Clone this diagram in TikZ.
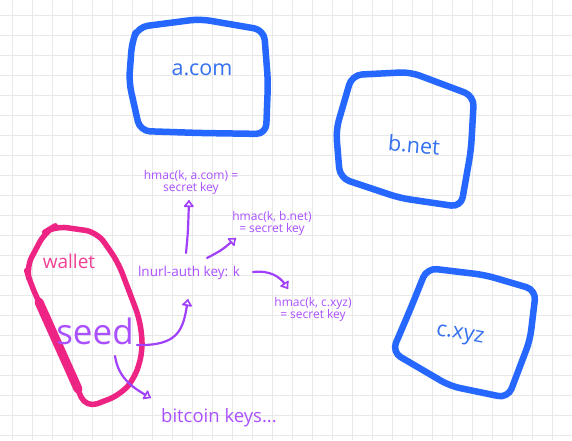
\documentclass[tikz,border=0pt]{standalone}
\usepackage{fontspec}
\setmainfont{Open Sans}
\usetikzlibrary{arrows.meta}
\definecolor{gridc}{RGB}{232,232,232}
\definecolor{boxblue}{RGB}{38,104,255}
\definecolor{txtblue}{RGB}{52,112,240}
\definecolor{pinkc}{RGB}{238,36,132}
\definecolor{pinktxt}{RGB}{240,64,150}
\definecolor{purp}{RGB}{170,80,255}
\definecolor{purpline}{RGB}{160,64,250}
\tikzset{
  sitebox/.style={draw=boxblue,line width=6.5pt,line join=round,line cap=round,rounded corners=10pt},
  sitetxt/.style={text=txtblue,font=\fontsize{21.5}{24}\selectfont,inner sep=0pt},
  hmactxt/.style={text=purp,font=\fontsize{12}{12}\selectfont,align=center,inner sep=0pt},
  purptxt/.style={text=purp,inner sep=0pt},
  hand/.style={draw=purpline,line width=2.2pt,line cap=round,-{Latex[open,round,length=8pt,width=13pt,line width=2.2pt]}},
}
\begin{document}
\begin{tikzpicture}[x=1pt,y=-1pt]
\useasboundingbox (0,0) rectangle (572,440);
\fill[white] (0,0) rectangle (572,440);
\foreach \i in {0,...,27} \draw[gridc,line width=1pt] (12.5+20*\i,0) -- (12.5+20*\i,440);
\foreach \j in {0,...,21} \draw[gridc,line width=1pt] (0,15+20*\j) -- (572,15+20*\j);

% site boxes
\draw[sitebox] (138,27) -- (200,19) -- (264,30) -- (268,82) -- (266,134) -- (200,133) -- (140,131) -- (129,82) -- (132,42) -- cycle;
\draw[sitebox] (352,75) -- (410,72) -- (474,96) -- (471,150) -- (461,207) -- (400,198) -- (340,178) -- (336,130) -- cycle;
\draw[sitebox] (427,268) -- (485,275) -- (536,290) -- (530,340) -- (508,398) -- (450,386) -- (392,352) -- (410,310) -- cycle;

\node[sitetxt] (acom) at (202,70) {a.com};
\node[sitetxt,rotate=-5] (bnet) at (414,145) {b.net};
\node[sitetxt,rotate=-10] (cxyz) at (460,336) {c.xyz};

% wallet
\draw[pinkc,line width=5.5pt,line join=round,line cap=round,rounded corners=12pt]
  (55,226) -- (97,232) -- (118,262) -- (140,320) -- (143,350) -- (135,378) -- (120,395) -- (86,408) -- (30,282) -- (26,268) -- (45,232) -- cycle;
\draw[pinkc,line width=9pt,line cap=round] (39,302) -- (78,389);
\node[text=pinktxt,font=\fontsize{19}{21}\selectfont,inner sep=0pt] (wallet) at (69,261) {wallet};
\node[purptxt,font=\fontsize{35}{38}\selectfont] (seed) at (95,331) {seed};

% texts
\node[purptxt,font=\fontsize{13.5}{15}\selectfont] (lnurl) at (189,273) {lnurl-auth key: k};
\node[hmactxt] (ha) at (191,182) {hmac(k, a.com) =\\secret key};
\node[hmactxt] (hb) at (272,223) {hmac(k, b.net)\\= secret key};
\node[hmactxt] (hc) at (313,309) {hmac(k, c.xyz)\\= secret key};
\node[purptxt,font=\fontsize{18.5}{21}\selectfont] (btc) at (219,418) {bitcoin keys...};

% connector endpoints
\coordinate (a0) at (186,253); \coordinate (a1) at (189,200);
\coordinate (b0) at (207,258); \coordinate (b1) at (236,238);
\coordinate (c0) at (253,272); \coordinate (c1) at (288,289);
\coordinate (d0) at (137,345); \coordinate (d1) at (188,299);
\coordinate (e0) at (115,356); \coordinate (e1) at (151,398);

\draw[hand] (a0) .. controls (188,232) .. (a1);
\draw[hand] (b0) .. controls (222,250) .. (b1);
\draw[hand] (c0) .. controls (270,270) and (280,277) .. (c1);
\draw[hand] (d0) .. controls (178,346) and (183,330) .. (d1);
\draw[hand] (e0) .. controls (118,376) and (130,386) .. (e1);
\end{tikzpicture}
\end{document}
